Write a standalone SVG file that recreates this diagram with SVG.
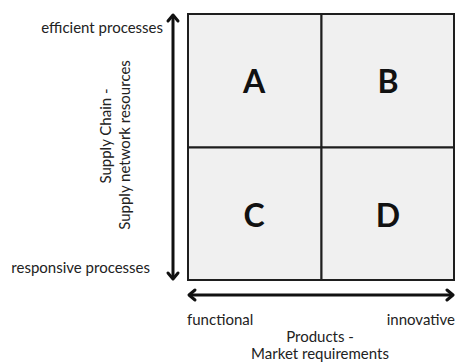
<svg xmlns="http://www.w3.org/2000/svg" width="455" height="362" viewBox="0 0 455 362">
<style>
.cell{fill:#f0f0f0;stroke:#1e1e1e;stroke-width:2}
.lbl{font-family:Lato,"Liberation Sans",sans-serif;font-size:15px;fill:#222}
.big{font-family:Lato,"Liberation Sans",sans-serif;font-size:32px;font-weight:bold;fill:#111;text-anchor:middle}
.ax{stroke:#111;stroke-width:3;fill:none}
.hd{stroke:#111;stroke-width:3;fill:none;stroke-linecap:round;stroke-linejoin:round}
</style>
<rect width="455" height="362" fill="#ffffff"/>
<g id="A"><rect class="cell" x="188" y="14" width="133.5" height="133.5"/><text class="big" x="254" y="93">A</text></g>
<g id="B"><rect class="cell" x="321.5" y="14" width="132.5" height="133.5"/><text class="big" x="388" y="93">B</text></g>
<g id="C"><rect class="cell" x="188" y="147.5" width="133.5" height="132.5"/><text class="big" x="254" y="227">C</text></g>
<g id="D"><rect class="cell" x="321.5" y="147.5" width="132.5" height="132.5"/><text class="big" x="388" y="227">D</text></g>
<g id="connectors">
<line class="ax" x1="173" y1="16" x2="173" y2="278"/>
<polyline class="hd" points="168,21 173,15 178,21"/>
<polyline class="hd" points="168,273 173,279 178,273"/>
<line class="ax" x1="190" y1="295" x2="452" y2="295"/>
<polyline class="hd" points="195,290 189,295 195,300"/>
<polyline class="hd" points="447,290 453,295 447,300"/>
</g>
<g id="labels">
<text class="lbl" x="163" y="33" text-anchor="end">efficient processes</text>
<text class="lbl" x="150" y="273" text-anchor="end">responsive processes</text>
<text class="lbl" x="187" y="325">functional</text>
<text class="lbl" x="455" y="325" text-anchor="end">innovative</text>
<text class="lbl" x="320" y="342" text-anchor="middle">Products -</text>
<text class="lbl" x="320" y="359" text-anchor="middle">Market requirements</text>
<text class="lbl" transform="translate(111,136) rotate(-90)" text-anchor="middle">Supply Chain -</text>
<text class="lbl" transform="translate(130,145) rotate(-90)" text-anchor="middle">Supply network resources</text>
</g>
</svg>
